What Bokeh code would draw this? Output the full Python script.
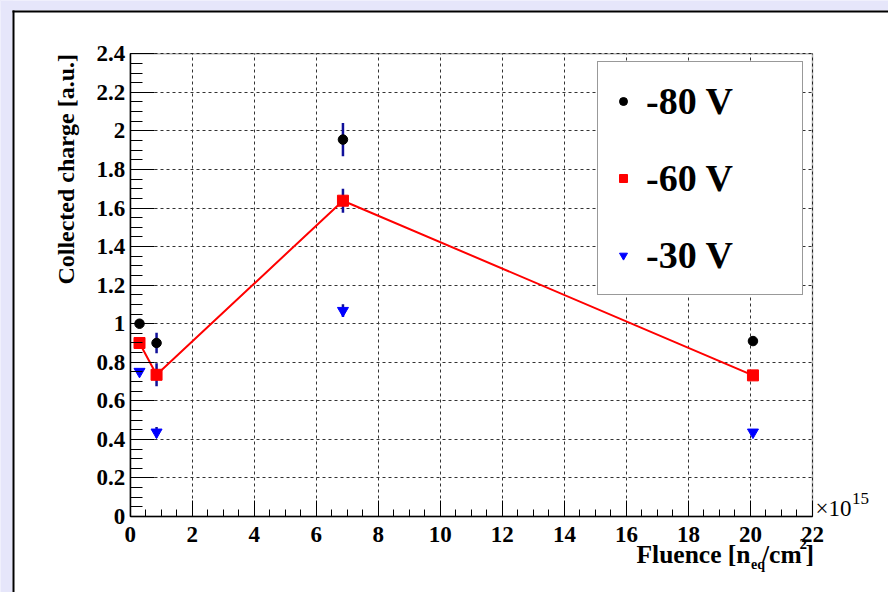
import math
from bokeh.plotting import figure
from bokeh.models import (Range1d, SingleIntervalTicker, CustomJSTickFormatter, Legend,
                          LegendItem, Label, BoxAnnotation, ColumnDataSource, LinearAxis)
from bokeh.embed import file_html
from bokeh.resources import INLINE

# ---- data ----
fluence = [0.30, 0.85, 6.86, 20.08]          # x 10^15 n_eq/cm^2
charge_80 = [1.00, 0.90, 1.955, 0.91]
err_80 = [0.0, 0.053, 0.086, 0.0]
charge_60 = [0.90, 0.735, 1.638, 0.732]
err_60 = [0.0, 0.06, 0.062, 0.0]
charge_30 = [0.752, 0.437, 1.068, 0.437]
err_30 = [0.0, 0.027, 0.033, 0.015]
series_labels = ["-80 V", "-60 V", "-30 V"]
y_title = "Collected charge [a.u.]"
x_title_parts = ["Fluence [n", "eq", "/cm", "2", "]"]
x_multiplier = ["\u00d710", "15"]
x_axis_span = (0, 22)
y_axis_span = (0, 2.4)

FONT = "Liberation Serif"

# ---- layout geometry (pixels) ----
W, H = 888, 592
FL, FR, FT, FB = 129.7, 812.0, 53.3, 516.0     # ROOT frame box on the canvas
sxu = (FR - FL) / (x_axis_span[1] - x_axis_span[0])
syu = (FB - FT) / (y_axis_span[1] - y_axis_span[0])
x_range = Range1d(x_axis_span[0] - FL / sxu, x_axis_span[1] + (W - FR) / sxu)
y_range = Range1d(y_axis_span[0] - (H - FB) / syu, y_axis_span[1] + FT / syu)

p = figure(width=W, height=H, output_backend="svg", toolbar_location=None, title=None,
           x_range=x_range, y_range=y_range,
           min_border=0, min_border_left=0, min_border_right=0,
           min_border_top=0, min_border_bottom=0)
p.border_fill_color = "white"
p.background_fill_color = "white"
p.outline_line_color = None
p.grid.visible = False

# ---- grid drawn as long dashed ticks of helper axes (limited to the frame box) ----
blank = CustomJSTickFormatter(code="return '';")
gx = LinearAxis(fixed_location=y_axis_span[0], bounds=x_axis_span,
                ticker=SingleIntervalTicker(interval=2, num_minor_ticks=0), formatter=blank,
                axis_line_color=None, minor_tick_line_color=None,
                major_tick_in=int(round(FB - FT)), major_tick_out=0,
                major_tick_line_color="#333333", major_tick_line_dash="3 3",
                major_tick_line_width=1, level="underlay")
gy = LinearAxis(fixed_location=x_axis_span[0], bounds=(y_axis_span[0], y_axis_span[1] + 1e-9),
                ticker=SingleIntervalTicker(interval=0.2, num_minor_ticks=0), formatter=blank,
                axis_line_color=None, minor_tick_line_color=None,
                major_tick_in=int(round(FR - FL)), major_tick_out=0,
                major_tick_line_color="#333333", major_tick_line_dash="3 3",
                major_tick_line_width=1, level="underlay")
p.add_layout(gx, "below")
p.add_layout(gy, "left")

# ---- main axes ----
p.xaxis[0].fixed_location = y_axis_span[0]
p.yaxis[0].fixed_location = x_axis_span[0]
p.xaxis[0].bounds = x_axis_span
p.yaxis[0].bounds = (y_axis_span[0], y_axis_span[1] + 1e-9)
p.xaxis[0].ticker = SingleIntervalTicker(interval=2, num_minor_ticks=4)
p.yaxis[0].ticker = SingleIntervalTicker(interval=0.2, num_minor_ticks=4)
p.yaxis[0].formatter = CustomJSTickFormatter(code="return tick.toFixed(1).replace(/\\.0$/, '');")
for ax in (p.xaxis[0], p.yaxis[0]):
    ax.axis_line_color = "black"
    ax.axis_line_width = 1.5
    ax.major_tick_line_color = "black"
    ax.minor_tick_line_color = "black"
    ax.major_tick_line_width = 1
    ax.minor_tick_line_width = 1
    ax.major_tick_out = 0
    ax.minor_tick_out = 0
    ax.major_label_text_font = FONT
    ax.major_label_text_font_style = "bold"
    ax.major_label_text_font_size = "23px"
    ax.major_label_text_color = "black"
p.xaxis[0].major_tick_in = 16
p.xaxis[0].minor_tick_in = 7
p.yaxis[0].major_tick_in = 24
p.yaxis[0].minor_tick_in = 12
p.xaxis[0].major_label_standoff = 10
p.yaxis[0].major_label_standoff = 5

# ---- error bars ----
ERR_COLOR = "#10109a"
for y, e in ((charge_80, err_80), (charge_60, err_60), (charge_30, err_30)):
    src = ColumnDataSource(dict(x=fluence,
                                y0=[a - b for a, b in zip(y, e)],
                                y1=[a + b for a, b in zip(y, e)]))
    p.segment(x0="x", y0="y0", x1="x", y1="y1", source=src,
              line_color=ERR_COLOR, line_width=2.5, line_cap="butt")

# ---- line through -60 V ----
p.line(fluence, charge_60, line_color="red", line_width=2)

r80 = p.scatter(fluence, charge_80, marker="circle", size=9.5,
                fill_color="black", line_color="black")
r60 = p.scatter(fluence, charge_60, marker="square", size=11,
                fill_color="red", line_color="red")
r30 = p.scatter(fluence, charge_30, marker="inverted_triangle", size=11,
                fill_color="blue", line_color="blue")

# ---- frame box ----
p.add_layout(BoxAnnotation(left=x_axis_span[0], right=x_axis_span[1],
                           bottom=y_axis_span[0], top=y_axis_span[1],
                           fill_alpha=0.0, line_color="black", line_width=1.5,
                           level="annotation"))

# ---- legend ----
legend = Legend(items=[LegendItem(label=series_labels[0], renderers=[r80]),
                       LegendItem(label=series_labels[1], renderers=[r60]),
                       LegendItem(label=series_labels[2], renderers=[r30])],
                location=(597, H - 295), padding=15, spacing=29,
                glyph_width=20, glyph_height=20, label_standoff=13,
                label_width=141, label_height=48,
                label_text_font=FONT, label_text_font_style="bold",
                label_text_font_size="38px", label_text_color="black",
                border_line_color="#333333", border_line_width=1.5,
                background_fill_color="white", background_fill_alpha=1.0)
p.add_layout(legend)

# ---- y title (vertical, aligned at top of the axis) ----
p.add_layout(Label(x=65, y=H - 53.5, x_units="screen", y_units="screen", text=y_title,
                   angle=math.pi / 2, text_align="right", text_baseline="alphabetic",
                   text_font=FONT, text_font_style="bold", text_font_size="24px",
                   text_color="black"))

# ---- x title pieces ----
DY = 8  # compensation for text baseline placement
xt = [(636.0, 562, x_title_parts[0], "25.5px"),
      (750.5, 572, x_title_parts[1], "14px"),
      (761.5, 562, x_title_parts[2], "25.5px"),
      (799.0, 551, x_title_parts[3], "15px"),
      (805.0, 562, x_title_parts[4], "25.5px")]
for px, py, t, fs in xt:
    p.add_layout(Label(x=px, y=H - py + DY, x_units="screen", y_units="screen", text=t,
                       text_align="left", text_baseline="alphabetic",
                       text_font=FONT, text_font_style="bold", text_font_size=fs,
                       text_color="black"))

# ---- x10^15 multiplier ----
p.add_layout(Label(x=815, y=H - 514 + 6, x_units="screen", y_units="screen", text=x_multiplier[0],
                   text_align="left", text_baseline="alphabetic", text_font=FONT,
                   text_font_size="23px", text_color="black"))
p.add_layout(Label(x=851.5, y=H - 503 + 5, x_units="screen", y_units="screen", text=x_multiplier[1],
                   text_align="left", text_baseline="alphabetic", text_font=FONT,
                   text_font_size="17px", text_color="black"))

# ---- pad decoration (lavender margin + black edge of the ROOT pad) ----
LAV = "#e6e6fa"
for l, r, b, t, c in ((0, 12, 0, H, LAV), (0, W, H - 10, H, LAV),
                      (12, 14, 0, H - 10, "black"), (12, W, H - 12, H - 10, "black")):
    p.add_layout(BoxAnnotation(left=l, right=r, bottom=b, top=t,
                               left_units="screen", right_units="screen",
                               top_units="screen", bottom_units="screen",
                               fill_color=c, fill_alpha=1.0, line_alpha=0.0,
                               level="overlay"))

html = file_html(p, INLINE, title="Collected charge vs fluence")
html = html.replace("<head>", "<head><style>html,body{background:#e6e6fa;}</style>", 1)
open("out.html", "w").write(html)
